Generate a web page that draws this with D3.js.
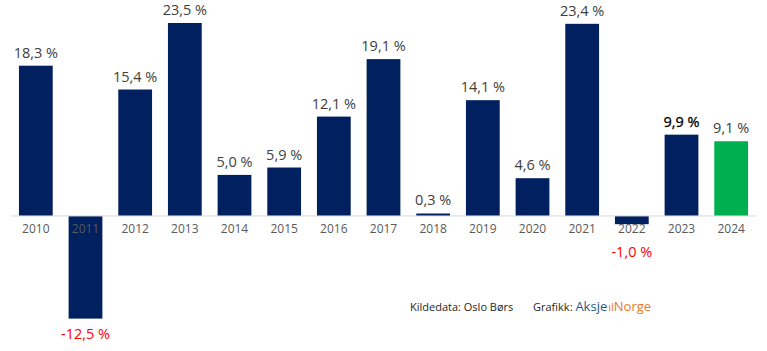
<!DOCTYPE html>
<html>
<head>
<meta charset="utf-8">
<script src="https://cdn.jsdelivr.net/npm/d3@7"></script>
<style>
  body { margin: 0; background: #fff; }
  svg { display: block; font-family: "Open Sans", sans-serif; }
</style>
</head>
<body>
<script>
// DATA
const years = ["2010","2011","2012","2013","2014","2015","2016","2017","2018","2019","2020","2021","2022","2023","2024"];
const returns = [18.3, -12.5, 15.4, 23.5, 5.0, 5.9, 12.1, 19.1, 0.3, 14.1, 4.6, 23.4, -1.0, 9.9, 9.1];
const highlightYear = "2024";

const svgwidth = 767;
const svgheight = 351;

const svg = d3.select("body").append("svg")
    .attr("width", svgwidth)
    .attr("height", svgheight);

// SCALES
const X = d3.scaleBand()
    .domain(years)
    .range([11, 756])
    .paddingInner(0.32)
    .paddingOuter(0.16);

const Y = d3.scaleLinear()
    .domain([-12.5, 23.5])
    .range([318.6, 23]);

const fmt = v => d3.format(".1f")(v).replace(".", ",").replace("\u2212", "-") + " %";

// BARS
svg.selectAll(".bar")
    .data(years)
    .enter().append("rect").classed("bar", true)
    .attr("x", d => X(d))
    .attr("width", X.bandwidth())
    .attr("y", (d, i) => Y(Math.max(0, returns[i])))
    .attr("height", (d, i) => Math.abs(Y(returns[i]) - Y(0)))
    .attr("fill", d => d === highlightYear ? "#00b050" : "#002060");

// BASELINE
svg.append("line")
    .attr("x1", 11).attr("x2", 756)
    .attr("y1", Y(0)).attr("y2", Y(0))
    .attr("stroke", "#d9d9d9")
    .attr("stroke-width", 1);

// X AXIS LABELS
const xAxis = svg.append("g")
    .attr("transform", `translate(0, ${Y(0) + 3})`)
    .call(d3.axisBottom(X).tickSize(0).tickPadding(6));
xAxis.select(".domain").remove();
xAxis.selectAll("text")
    .attr("font-size", 12)
    .attr("font-family", "Open Sans, sans-serif")
    .attr("fill", "#595959");

// VALUE LABELS
svg.selectAll(".val")
    .data(years)
    .enter().append("text").classed("val", true)
    .attr("x", d => X(d) + X.bandwidth() / 2)
    .attr("y", (d, i) => returns[i] >= 0 ? Y(returns[i]) - 8 : Math.max(Y(returns[i]) + 20, Y(0) + 41))
    .attr("text-anchor", "middle")
    .attr("font-size", 14.5)
    .attr("fill", (d, i) => returns[i] < 0 ? "#ff0000" : (d === "2023" ? "#000000" : "#404040"))
    .attr("stroke", d => d === "2023" ? "#000000" : "none")
    .attr("stroke-width", 0.3)
    .text((d, i) => fmt(returns[i]));

// FOOTER
svg.append("text")
    .attr("x", 410).attr("y", 311)
    .attr("font-size", 11)
    .attr("fill", "#262626")
    .text("Kildedata: Oslo Børs");

const credit = svg.append("text")
    .attr("x", 533).attr("y", 311)
    .attr("font-size", 11)
    .attr("fill", "#262626");
credit.append("tspan").text("Grafikk: ");
credit.append("tspan").attr("fill", "#1f5a8a").attr("font-size", 13).text("Aksje");
credit.append("tspan").attr("fill", "#e8782a").attr("font-size", 11).attr("dx", 1).text("ıl");
credit.append("tspan").attr("fill", "#e8782a").attr("font-size", 13).text("Norge");
</script>
</body>
</html>
